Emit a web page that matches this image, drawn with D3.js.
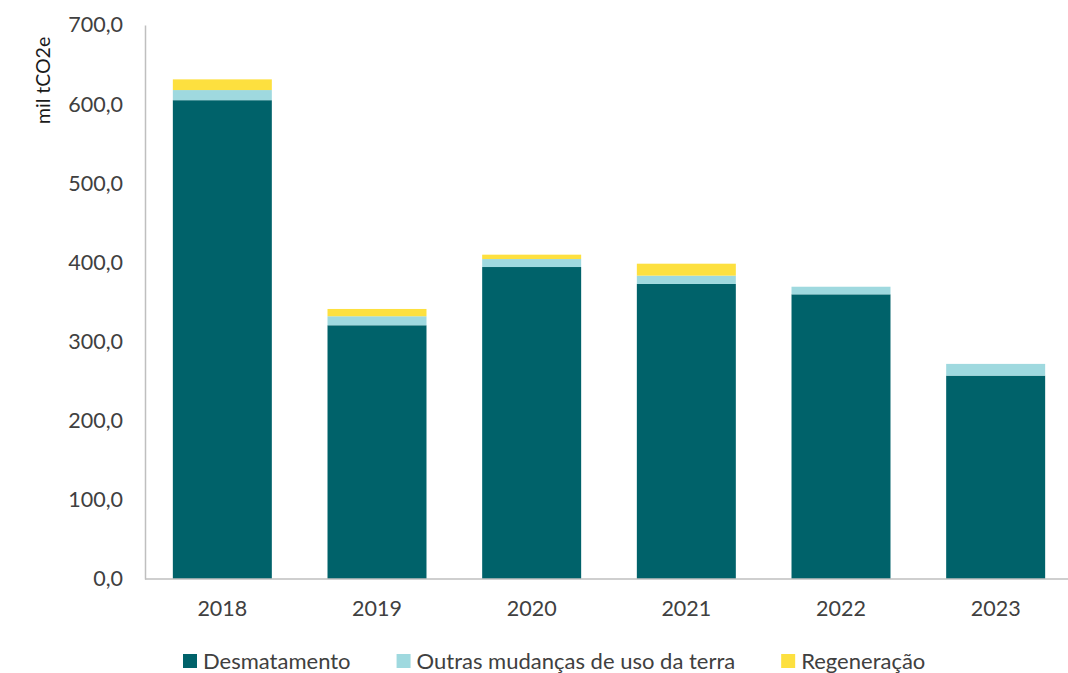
<!DOCTYPE html>
<html>
<head>
<meta charset="utf-8">
<script src="https://cdn.jsdelivr.net/npm/d3@7"></script>
<style>
  html, body { margin: 0; padding: 0; background: #fff; }
  svg { display: block; font-family: Lato, "Open Sans", sans-serif; }
</style>
</head>
<body>
<svg id="chart" width="1068" height="673"></svg>
<script>
// Emissões por ano (mil tCO2e), por fonte
const years = ["2018", "2019", "2020", "2021", "2022", "2023"];
const desmatamento = [605.0, 320.6, 394.2, 372.8, 359.7, 257.0];
const outrasMudancas = [12.8, 11.4, 10.1, 10.5, 9.6, 14.8];
const regeneracao = [13.5, 9.2, 5.5, 15.1, 0, 0];
const seriesNames = ["Desmatamento", "Outras mudanças de uso da terra", "Regeneração"];
const seriesColors = ["#00626a", "#9fd9df", "#fde03f"];
const yTicks = [0, 100, 200, 300, 400, 500, 600, 700];
const yLabel = "mil tCO2e";

const rows = years.map((y, i) => ({
  year: y,
  s0: desmatamento[i],
  s1: outrasMudancas[i],
  s2: regeneracao[i]
}));

const svg = d3.select("#chart");
const W = 1068;
const plot = { left: 145, right: 1073, top: 25, bottom: 579 };

const x = d3.scaleBand()
  .domain(years)
  .range([plot.left, plot.right])
  .paddingInner(0.36)
  .paddingOuter(0.18);

const y = d3.scaleLinear()
  .domain([0, 700])
  .range([plot.bottom, plot.top]);

const stack = d3.stack().keys(["s0", "s1", "s2"]);
const layers = stack(rows);

// Stacked bars
svg.append("g")
  .selectAll("g")
  .data(layers)
  .join("g")
  .attr("fill", (d, i) => seriesColors[i])
  .selectAll("rect")
  .data(d => d)
  .join("rect")
  .attr("x", d => x(d.data.year))
  .attr("width", x.bandwidth())
  .attr("y", d => y(d[1]))
  .attr("height", d => Math.max(0, y(d[0]) - y(d[1])));

const fmt = v => d3.format(".1f")(v).replace(".", ",");

// Y axis
const yAxis = svg.append("g")
  .attr("transform", `translate(${plot.left},0)`)
  .call(d3.axisLeft(y).tickValues(yTicks).tickFormat(fmt).tickSize(0).tickPadding(22));
yAxis.select(".domain").attr("stroke", "#bfbfbf").attr("stroke-width", 1.5);
yAxis.selectAll("text")
  .attr("font-size", 21.5)
  .attr("fill", "#404040")
  .attr("font-family", "Lato, sans-serif");

// X axis
const xAxis = svg.append("g")
  .attr("transform", `translate(0,${plot.bottom})`)
  .call(d3.axisBottom(x).tickSize(0).tickPadding(22));
xAxis.select(".domain").remove();
xAxis.append("line")
  .attr("x1", plot.left).attr("x2", W)
  .attr("y1", 0).attr("y2", 0)
  .attr("stroke", "#bfbfbf").attr("stroke-width", 1.5);
xAxis.selectAll("text")
  .attr("font-size", 21.5)
  .attr("fill", "#404040")
  .attr("font-family", "Lato, sans-serif");

// Y axis title
svg.append("text")
  .attr("transform", `translate(50,${y(630)}) rotate(-90)`)
  .attr("text-anchor", "middle")
  .attr("font-size", 19.5)
  .attr("fill", "#1a1a1a")
  .text(yLabel);

// Legend
const legend = svg.append("g").attr("transform", "translate(183,661)");
let lx = 0;
seriesNames.forEach((name, i) => {
  const g = legend.append("g").attr("transform", `translate(${lx},0)`);
  g.append("rect")
    .attr("x", 0).attr("y", -7)
    .attr("width", 14).attr("height", 14)
    .attr("fill", seriesColors[i]);
  const t = g.append("text")
    .attr("x", 20).attr("y", 0)
    .attr("dy", "0.36em")
    .attr("font-size", 22)
    .attr("fill", "#404040")
    .text(name);
  lx += 20 + t.node().getComputedTextLength() + 46;
});
</script>
</body>
</html>
